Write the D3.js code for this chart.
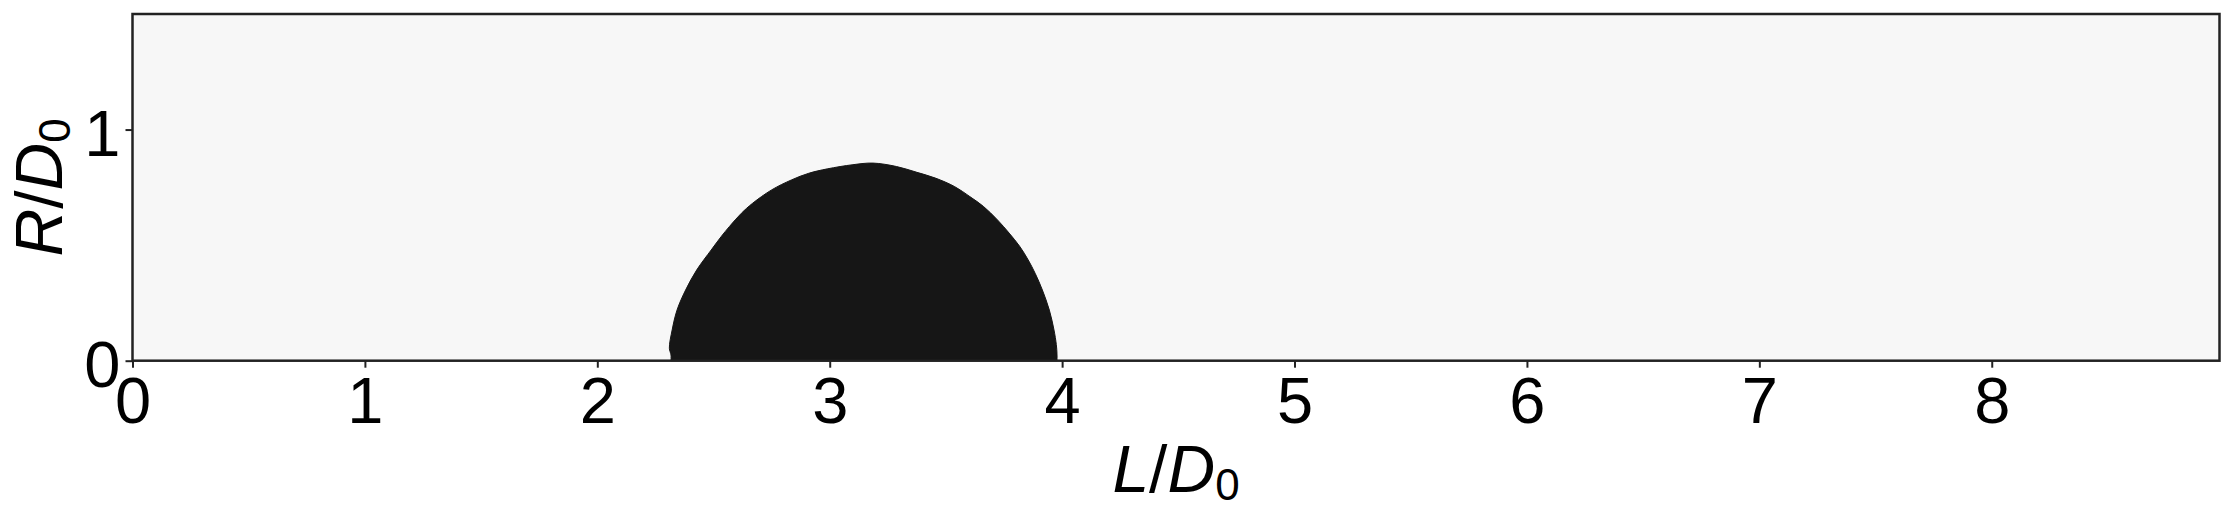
<!DOCTYPE html>
<html>
<head>
<meta charset="utf-8">
<script src="https://cdn.jsdelivr.net/npm/d3@7"></script>
<style>
  body { margin: 0; background: #ffffff; }
  text { font-family: "Liberation Sans", Arial, Helvetica, sans-serif; fill: #000; }
</style>
</head>
<body>
<div id="vis-container"></div>
<script>
// drop outline (L/D0, R/D0), left foot -> top -> right foot
var dropL = [2.317, 2.317, 2.310, 2.322, 2.343, 2.380, 2.428, 2.490, 2.533, 2.568, 2.620, 2.668, 2.750, 2.835, 2.910, 2.990, 3.100, 3.186,
             3.288, 3.375, 3.455, 3.538, 3.603, 3.662, 3.722, 3.772, 3.818, 3.854, 3.884, 3.915, 3.945, 3.965, 3.975, 3.978, 3.978];
var dropR = [0.000, 0.025, 0.054, 0.133, 0.219, 0.306, 0.393, 0.479, 0.537, 0.580, 0.638, 0.681, 0.739, 0.782, 0.811, 0.830, 0.848, 0.855,
             0.840, 0.815, 0.790, 0.753, 0.710, 0.667, 0.609, 0.552, 0.494, 0.436, 0.378, 0.306, 0.219, 0.133, 0.070, 0.030, 0.000];
var xTicks = [0, 1, 2, 3, 4, 5, 6, 7, 8];
var yTicks = [0, 1];
var xDomain = [0, 8.98];
var yDomain = [0, 1.5];

var W = 2234, H = 518;
var margin = { top: 14, right: 14.5, bottom: 157.3, left: 132.5 },
    width  = W - margin.left - margin.right,
    height = H - margin.top - margin.bottom;

var svg = d3.select("#vis-container")
  .append("svg")
    .attr("width", W)
    .attr("height", H);

var canvas = svg.append("g")
    .attr("transform", "translate(" + margin.left + "," + margin.top + ")");

var xScale = d3.scaleLinear().domain(xDomain).range([0, width]);
var yScale = d3.scaleLinear().domain(yDomain).range([height, 0]);

// plot background
canvas.append("rect")
  .attr("x", 0).attr("y", 0)
  .attr("width", width).attr("height", height)
  .style("fill", "#f7f7f7");

// the drop
var pts = dropL.map(function(d, i) { return [d, dropR[i]]; });
var line = d3.line()
  .curve(d3.curveCatmullRom.alpha(0.5))
  .x(function(d) { return xScale(d[0]); })
  .y(function(d) { return yScale(d[1]); });

canvas.append("path")
  .datum(pts)
  .attr("d", function(d) { return line(d) + "Z"; })
  .style("fill", "#161616")
  .style("stroke", "#161616")
  .style("stroke-width", 1);

// axes
var xAxis = d3.axisBottom(xScale).tickValues(xTicks).tickFormat(d3.format("d"))
  .tickSize(7).tickPadding(9);
var yAxis = d3.axisLeft(yScale).tickValues(yTicks).tickFormat(d3.format("d"))
  .tickSize(7).tickPadding(5);

var gx = canvas.append("g")
  .attr("transform", "translate(0," + height + ")")
  .call(xAxis);
var gy = canvas.append("g").call(yAxis);

[gx, gy].forEach(function(g) {
  g.select(".domain").remove();
  g.selectAll(".tick line").style("stroke", "#222").style("stroke-width", 2);
  g.selectAll(".tick text")
    .style("font-size", "65px")
    .style("font-family", "'Liberation Sans', Arial, sans-serif")
    .style("fill", "#000");
});
gy.selectAll(".tick text").attr("dy", "0.4em");

// frame
canvas.append("rect")
  .attr("x", 0).attr("y", 0)
  .attr("width", width).attr("height", height)
  .style("fill", "none")
  .style("stroke", "#222")
  .style("stroke-width", 2.5);

// axis labels
function mathLabel(sel, main, sub) {
  sel.append("tspan").style("font-style", "italic").text(main[0]);
  sel.append("tspan").text("/");
  sel.append("tspan").style("font-style", "italic").text(main[1]);
  sel.append("tspan").attr("dy", 8).style("font-size", "44px").text(sub);
}

var xl = canvas.append("text")
  .attr("x", width / 2)
  .attr("y", 477.7)
  .style("text-anchor", "middle")
  .style("font-size", "66px");
mathLabel(xl, ["L", "D"], "0");

var yl = canvas.append("text")
  .attr("transform", "translate(" + (62 - margin.left) + "," + (height / 2) + ") rotate(-90)")
  .style("text-anchor", "middle")
  .style("font-size", "66px");
mathLabel(yl, ["R", "D"], "0");
</script>
</body>
</html>
